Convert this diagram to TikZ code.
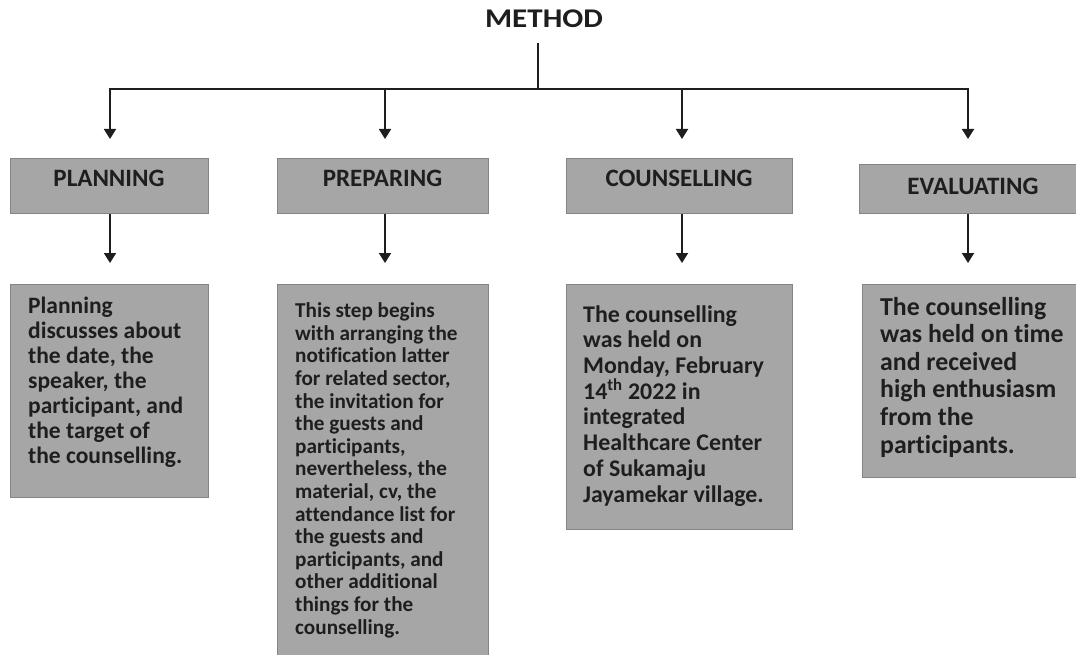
\documentclass[tikz,border=0pt]{standalone}
\usepackage{fontspec}
\setmainfont{Carlito}[Ligatures=CommonOff]
\newfontfamily\widefont[FakeStretch=1.15]{Carlito}
\usetikzlibrary{arrows.meta}
\definecolor{boxfill}{HTML}{A6A6A6}
\definecolor{boxline}{HTML}{858585}
\definecolor{ink}{HTML}{1E1E1E}
\begin{document}
\begin{tikzpicture}[x=1pt,y=-1pt,
  box/.style={draw=boxline, fill=boxfill, line width=1.3pt, inner sep=0pt, anchor=north west},
  headtext/.style={font=\bfseries\fontsize{25}{28}\selectfont, text=ink, anchor=base, inner sep=0pt},
  bodytext/.style={align=left, anchor=base west, inner sep=0pt, text=ink},
  ln/.style={draw=ink, line width=1.8pt},
  arr/.style={draw=ink, line width=1.8pt, -{Triangle[width=12pt,length=10pt]}}
]
\useasboundingbox (0,0) rectangle (1076,655);

% title
\node[font=\widefont\bfseries\fontsize{27}{30}\selectfont, text=ink, anchor=base, inner sep=0pt] (method) at (544,28) {METHOD};

% header boxes
\node[box, minimum width=198pt, minimum height=55pt] (h1) at (10,158) {};
\node[box, minimum width=211pt, minimum height=55pt] (h2) at (277,158) {};
\node[box, minimum width=226pt, minimum height=55pt] (h3) at (566,158) {};
\node[box, minimum width=220pt, minimum height=49pt] (h4) at (859,164) {};
\node[headtext] (h1t) at (109,187) {PLANNING};
\node[headtext] (h2t) at (382.5,187) {PREPARING};
\node[headtext] (h3t) at (679,187) {COUNSELLING};
\node[headtext] (h4t) at (973,195) {EVALUATING};

% body boxes
\node[box, minimum width=198pt, minimum height=213pt] (b1) at (10,284) {};
\node[box, minimum width=211pt, minimum height=380pt] (b2) at (277,284) {};
\node[box, minimum width=226pt, minimum height=245pt] (b3) at (566,284) {};
\node[box, minimum width=220pt, minimum height=193pt] (b4) at (862,284) {};

% body texts (anchor = baseline of the last line)
\node[bodytext, font=\bfseries\fontsize{23.5}{25}\selectfont] (b1t) at (28,463) {Planning\\discusses about\\the date, the\\speaker, the\\participant, and\\the target of\\the counselling.};
\node[bodytext, font=\bfseries\fontsize{21.2}{22.6}\selectfont] (b2t) at (295,634) {This step begins\\with arranging the\\notification latter\\for related sector,\\the invitation for\\the guests and\\participants,\\nevertheless, the\\material, cv, the\\attendance list for\\the guests and\\participants, and\\other additional\\things for the\\counselling.};
\node[bodytext, font=\bfseries\fontsize{23.9}{25.7}\selectfont] (b3t) at (583,502) {The counselling\\was held on\\Monday, February\\14\textsuperscript{th} 2022 in\\integrated\\Healthcare Center\\of Sukamaju\\Jayamekar village.};
\node[bodytext, font=\bfseries\fontsize{25.8}{27.6}\selectfont] (b4t) at (880,453) {The counselling\\was held on time\\and received\\high enthusiasm\\from the\\participants.};

% connectors
\coordinate (mtop) at (538,43);
\coordinate (bus) at (538,89);
\coordinate (t1) at (110,139);
\coordinate (t2) at (385,139);
\coordinate (t3) at (682,139);
\coordinate (t4) at (968,139);
\coordinate (u1) at (110,263);
\coordinate (u2) at (385,263);
\coordinate (u3) at (682,263);
\coordinate (u4) at (968,263);

\draw[ln] (mtop) -- (bus);
\draw[arr] (bus) -| (t1);
\draw[arr] (bus) -| (t2);
\draw[arr] (bus) -| (t3);
\draw[arr] (bus) -| (t4);
\draw[arr] (t1 |- h1.south) -- (u1);
\draw[arr] (t2 |- h2.south) -- (u2);
\draw[arr] (t3 |- h3.south) -- (u3);
\draw[arr] (t4 |- h4.south) -- (u4);
\end{tikzpicture}
\end{document}
